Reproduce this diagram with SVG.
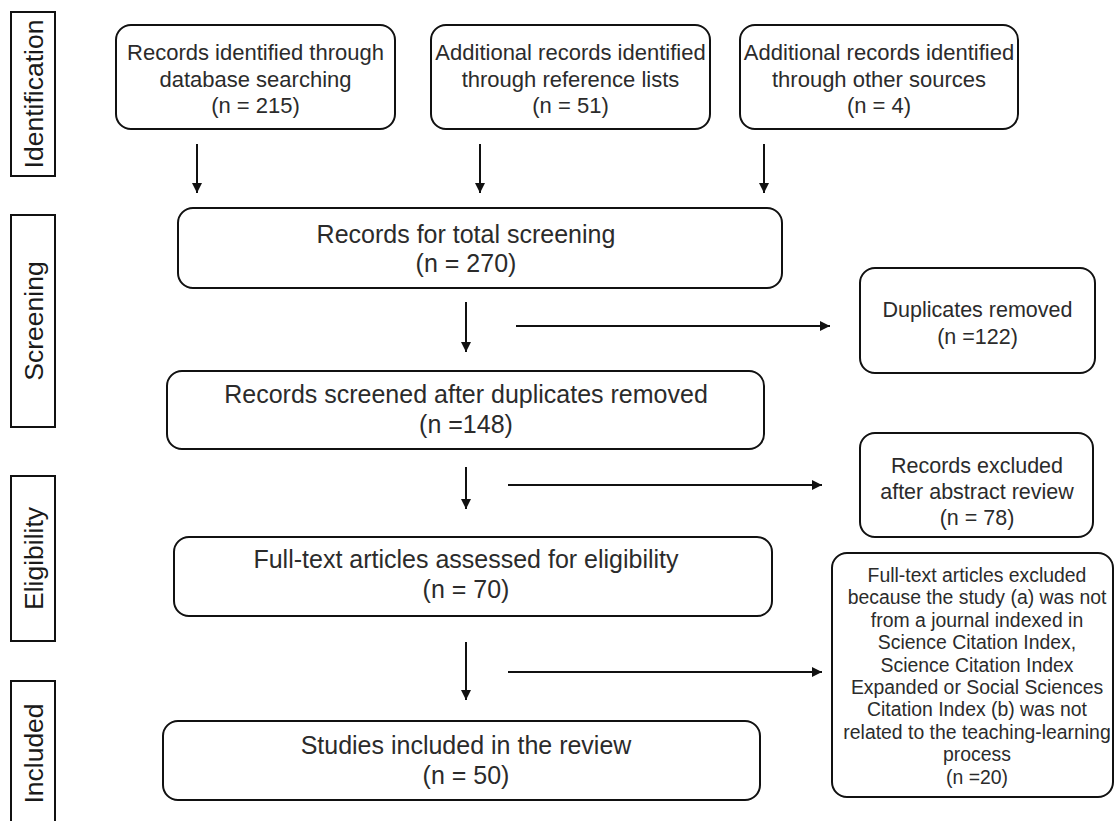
<svg xmlns="http://www.w3.org/2000/svg" width="1115" height="821" viewBox="0 0 1115 821">
<style>
  .box { fill: #ffffff; stroke: #111111; stroke-width: 2; }
  .stage { fill: #ffffff; stroke: #111111; stroke-width: 2; }
  text { font-family: "Liberation Sans", Arial, sans-serif; fill: #2b2b2b; text-anchor: middle; }
  .t22 { font-size: 22px; }
  .t25 { font-size: 25px; }
  .t21 { font-size: 21.5px; }
  .t19 { font-size: 19.4px; }
  .lab { font-size: 26.5px; fill: #1a1a1a; }
  .conn { stroke: #111111; stroke-width: 2; fill: none; marker-end: url(#ah); }
</style>
<defs>
  <marker id="ah" markerUnits="userSpaceOnUse" markerWidth="11" markerHeight="11" refX="10" refY="5" orient="auto">
    <path d="M0,0 L10,5 L0,10 z" fill="#111111"/>
  </marker>
</defs>
<rect width="1115" height="821" fill="#ffffff"/>

<g id="stage-identification">
  <rect class="stage" x="11" y="12" width="44" height="164"/>
  <text class="lab" x="43" y="94" transform="rotate(-90 43 94)">Identification</text>
</g>
<g id="stage-screening">
  <rect class="stage" x="11" y="215" width="44" height="212"/>
  <text class="lab" x="43" y="321" transform="rotate(-90 43 321)">Screening</text>
</g>
<g id="stage-eligibility">
  <rect class="stage" x="11" y="476" width="44" height="165"/>
  <text class="lab" x="43" y="558.5" transform="rotate(-90 43 558.5)">Eligibility</text>
</g>
<g id="stage-included">
  <rect class="stage" x="11" y="681" width="44" height="145"/>
  <text class="lab" x="43" y="753.5" transform="rotate(-90 43 753.5)">Included</text>
</g>

<g id="node-database">
  <rect class="box" x="116" y="25" width="279" height="104" rx="15"/>
  <text class="t22" x="255.5" y="60">Records identified through</text>
  <text class="t22" x="255.5" y="87">database searching</text>
  <text class="t22" x="255.5" y="113">(n = 215)</text>
</g>
<g id="node-reflists">
  <rect class="box" x="431" y="25" width="279" height="104" rx="15"/>
  <text class="t22" x="570.5" y="60">Additional records identified</text>
  <text class="t22" x="570.5" y="87">through reference lists</text>
  <text class="t22" x="570.5" y="113">(n = 51)</text>
</g>
<g id="node-other">
  <rect class="box" x="740" y="25" width="278" height="104" rx="15"/>
  <text class="t22" x="879" y="60">Additional records identified</text>
  <text class="t22" x="879" y="87">through other sources</text>
  <text class="t22" x="879" y="113">(n = 4)</text>
</g>

<g id="node-total">
  <rect class="box" x="178" y="208" width="604" height="80" rx="15"/>
  <text class="t25" x="466" y="243">Records for total screening</text>
  <text class="t25" x="466" y="272">(n = 270)</text>
</g>
<g id="node-duplicates">
  <rect class="box" x="860" y="268" width="235" height="105" rx="15"/>
  <text class="t21" x="977.5" y="317">Duplicates removed</text>
  <text class="t21" x="977.5" y="344">(n =122)</text>
</g>
<g id="node-screened">
  <rect class="box" x="167" y="371" width="597" height="78" rx="15"/>
  <text class="t25" x="466" y="403">Records screened after duplicates removed</text>
  <text class="t25" x="466" y="433">(n =148)</text>
</g>
<g id="node-abstract">
  <rect class="box" x="860" y="433" width="233" height="104" rx="15"/>
  <text class="t21" x="977" y="473">Records excluded</text>
  <text class="t21" x="977" y="499">after abstract review</text>
  <text class="t21" x="977" y="525">(n = 78)</text>
</g>
<g id="node-fulltext">
  <rect class="box" x="174" y="537" width="598" height="79" rx="15"/>
  <text class="t25" x="466" y="568">Full-text articles assessed for eligibility</text>
  <text class="t25" x="466" y="598">(n = 70)</text>
</g>
<g id="node-fulltext-excluded">
  <rect class="box" x="832" y="553" width="281" height="244" rx="15"/>
  <text class="t19" x="977" y="582">Full-text articles excluded</text>
  <text class="t19" x="977" y="604.4">because the study (a) was not</text>
  <text class="t19" x="977" y="626.8">from a journal indexed in</text>
  <text class="t19" x="977" y="649.2">Science Citation Index,</text>
  <text class="t19" x="977" y="671.6">Science Citation Index</text>
  <text class="t19" x="977" y="694">Expanded or Social Sciences</text>
  <text class="t19" x="977" y="716.4">Citation Index (b) was not</text>
  <text class="t19" x="977" y="738.8">related to the teaching-learning</text>
  <text class="t19" x="977" y="761.2">process</text>
  <text class="t19" x="977" y="783.6">(n =20)</text>
</g>
<g id="node-included">
  <rect class="box" x="163" y="721" width="597" height="79" rx="15"/>
  <text class="t25" x="466" y="754">Studies included in the review</text>
  <text class="t25" x="466" y="784">(n = 50)</text>
</g>

<g id="connectors">
  <line class="conn" x1="197" y1="144" x2="197" y2="193"/>
  <line class="conn" x1="480" y1="144" x2="480" y2="193"/>
  <line class="conn" x1="764" y1="144" x2="764" y2="193"/>
  <line class="conn" x1="466" y1="302" x2="466" y2="352"/>
  <line class="conn" x1="516" y1="326" x2="830" y2="326"/>
  <line class="conn" x1="466" y1="467" x2="466" y2="509"/>
  <line class="conn" x1="508" y1="485" x2="822" y2="485"/>
  <line class="conn" x1="466" y1="642" x2="466" y2="700"/>
  <line class="conn" x1="508" y1="672" x2="822" y2="672"/>
</g>
</svg>
